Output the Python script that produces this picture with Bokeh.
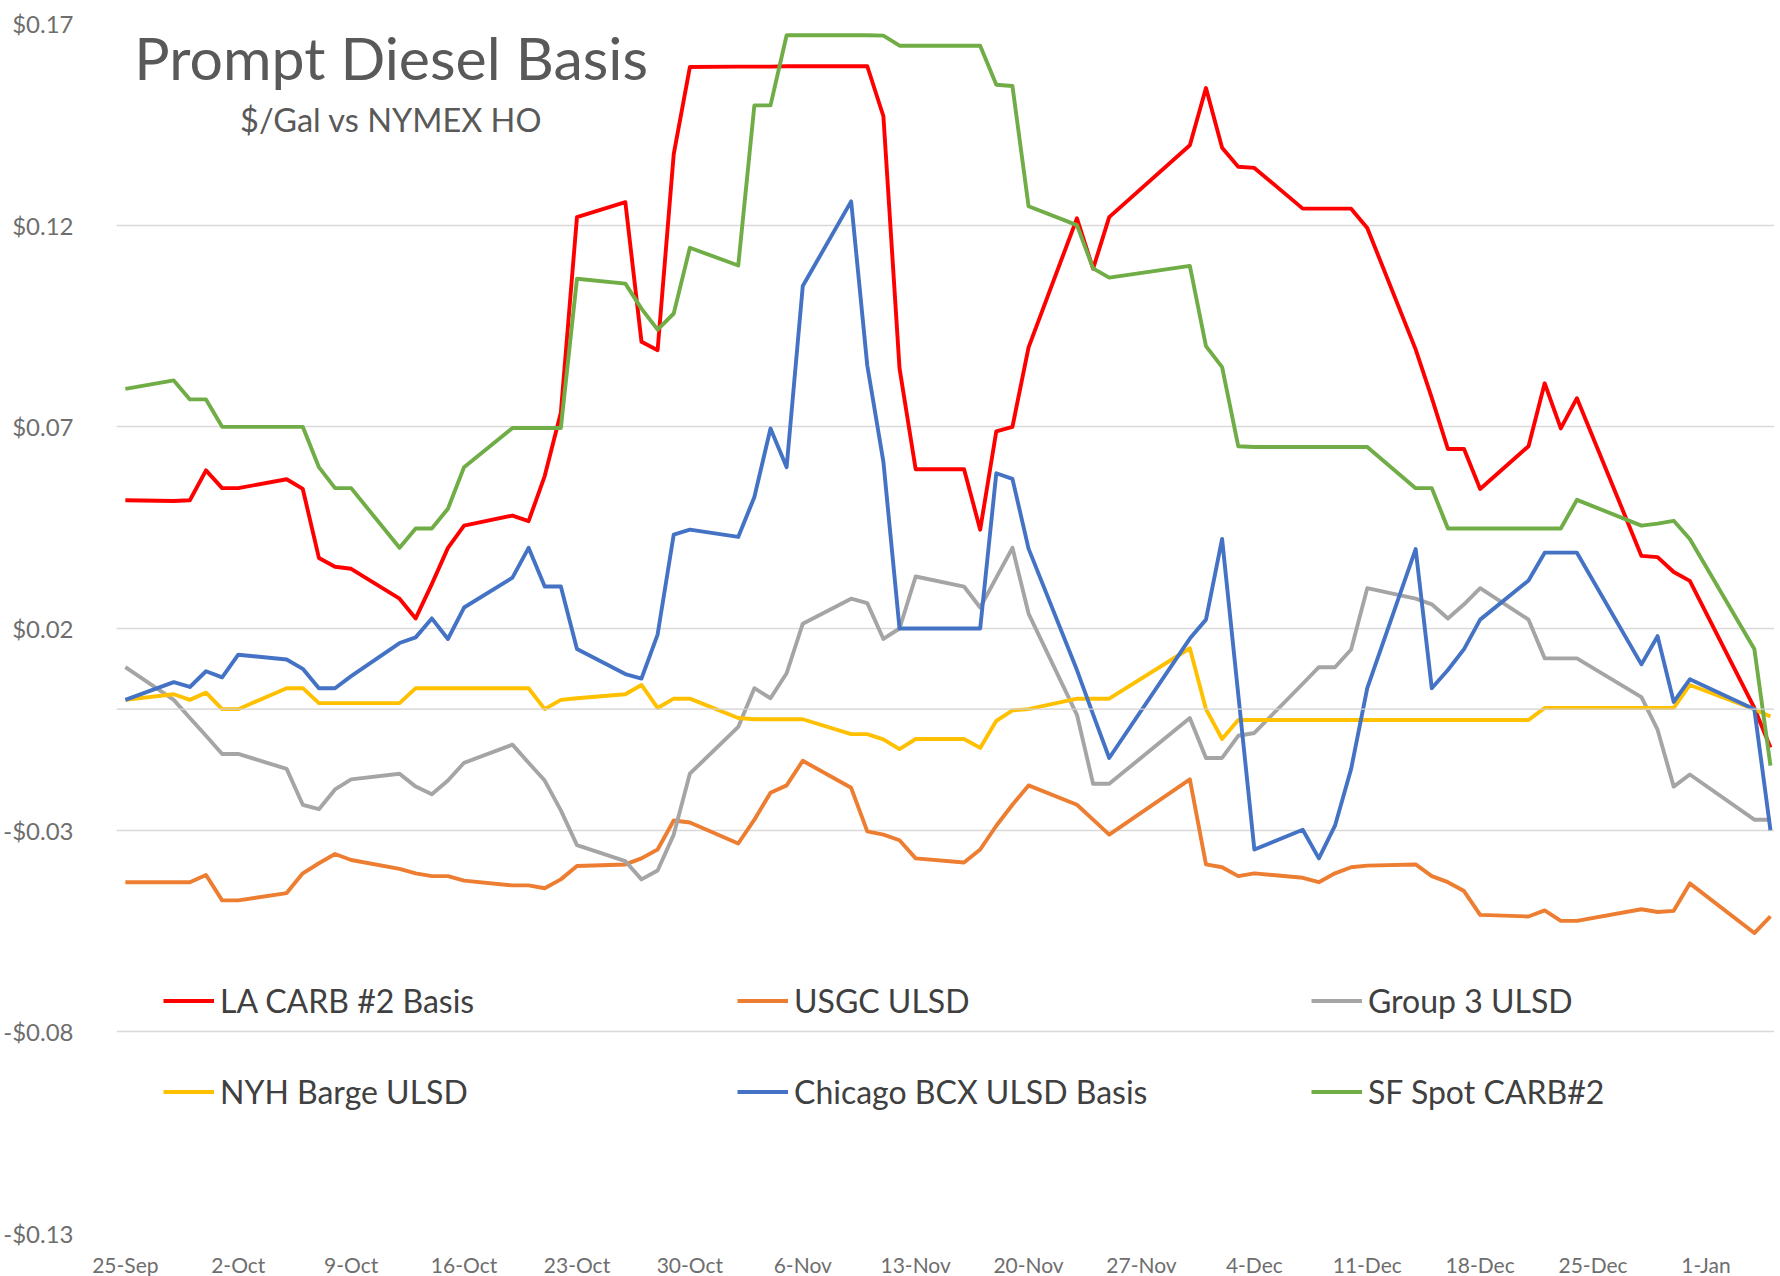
import pandas as pd
from bokeh.plotting import figure
from bokeh.models import (ColumnDataSource, FixedTicker, NumeralTickFormatter,
                          DatetimeTickFormatter, Legend, LegendItem, Label, Span, Range1d)
from bokeh.embed import file_html
from bokeh.resources import INLINE

dates = ["2020-09-25", "2020-09-28", "2020-09-29", "2020-09-30", "2020-10-01", "2020-10-02",
         "2020-10-05", "2020-10-06", "2020-10-07", "2020-10-08", "2020-10-09",
         "2020-10-12", "2020-10-13", "2020-10-14", "2020-10-15", "2020-10-16",
         "2020-10-19", "2020-10-20", "2020-10-21", "2020-10-22", "2020-10-23",
         "2020-10-26", "2020-10-27", "2020-10-28", "2020-10-29", "2020-10-30",
         "2020-11-02", "2020-11-03", "2020-11-04", "2020-11-05", "2020-11-06",
         "2020-11-09", "2020-11-10", "2020-11-11", "2020-11-12", "2020-11-13",
         "2020-11-16", "2020-11-17", "2020-11-18", "2020-11-19", "2020-11-20",
         "2020-11-23", "2020-11-24", "2020-11-25",
         "2020-11-30", "2020-12-01", "2020-12-02", "2020-12-03", "2020-12-04",
         "2020-12-07", "2020-12-08", "2020-12-09", "2020-12-10", "2020-12-11",
         "2020-12-14", "2020-12-15", "2020-12-16", "2020-12-17", "2020-12-18",
         "2020-12-21", "2020-12-22", "2020-12-23", "2020-12-24",
         "2020-12-28", "2020-12-29", "2020-12-30", "2020-12-31",
         "2021-01-04", "2021-01-05"]

la_carb = [0.0518, 0.0516, 0.0518, 0.0592, 0.0548, 0.0548,
           0.0570, 0.0546, 0.0375, 0.0353, 0.0348,
           0.0274, 0.0225, 0.0310, 0.0400, 0.0455,
           0.0480, 0.0466, 0.0578, 0.0735, 0.1220,
           0.1257, 0.0911, 0.0890, 0.1376, 0.1592,
           0.1593, 0.1593, 0.1593, 0.1594, 0.1594,
           0.1594, 0.1594, 0.1470, 0.0845, 0.0595,
           0.0595, 0.0445, 0.0689, 0.0700, 0.0897,
           0.1217, 0.1092, 0.1220,
           0.1398, 0.1540, 0.1392, 0.1345, 0.1342,
           0.1241, 0.1241, 0.1241, 0.1241, 0.1193,
           0.0892, 0.0772, 0.0645, 0.0645, 0.0546,
           0.0652, 0.0808, 0.0696, 0.0771,
           0.0380, 0.0377, 0.0340, 0.0318,
           0.0003, -0.0095]

usgc_ulsd = [-0.0429, -0.0429, -0.0429, -0.0411, -0.0474, -0.0474,
             -0.0456, -0.0407, -0.0382, -0.0359, -0.0374,
             -0.0396, -0.0407, -0.0414, -0.0414, -0.0425,
             -0.0437, -0.0437, -0.0444, -0.0422, -0.0389,
             -0.0385, -0.0370, -0.0348, -0.0276, -0.0281,
             -0.0333, -0.0274, -0.0207, -0.0189, -0.0128,
             -0.0195, -0.0303, -0.0311, -0.0325, -0.0370,
             -0.0380, -0.0348, -0.0289, -0.0237, -0.0189,
             -0.0237, -0.0274, -0.0311,
             -0.0174, -0.0385, -0.0392, -0.0414, -0.0407,
             -0.0418, -0.0429, -0.0407, -0.0392, -0.0388,
             -0.0385, -0.0414, -0.0429, -0.0451, -0.0510,
             -0.0514, -0.0499, -0.0525, -0.0525,
             -0.0496, -0.0503, -0.0500, -0.0432,
             -0.0555, -0.0514]

group3_ulsd = [0.0104, 0.0023, -0.0022, -0.0066, -0.0111, -0.0111,
               -0.0148, -0.0237, -0.0248, -0.0199, -0.0174,
               -0.0160, -0.0192, -0.0211, -0.0177, -0.0133,
               -0.0088, -0.0133, -0.0177, -0.0251, -0.0337,
               -0.0377, -0.0422, -0.0400, -0.0311, -0.0160,
               -0.0044, 0.0052, 0.0027, 0.0089, 0.0212,
               0.0274, 0.0263, 0.0174, 0.0200, 0.0329,
               0.0304, 0.0252, 0.0326, 0.0400, 0.0237,
               -0.0014, -0.0185, -0.0185,
               -0.0022, -0.0121, -0.0121, -0.0066, -0.0059,
               0.0063, 0.0104, 0.0104, 0.0148, 0.0300,
               0.0274, 0.0260, 0.0225, 0.0260, 0.0300,
               0.0222, 0.0126, 0.0126, 0.0126,
               0.0030, -0.0051, -0.0192, -0.0162,
               -0.0274, -0.0274]

nyh_barge = [0.0023, 0.0037, 0.0023, 0.0041, 0.0000, 0.0000,
             0.0052, 0.0052, 0.0015, 0.0015, 0.0015,
             0.0015, 0.0052, 0.0052, 0.0052, 0.0052,
             0.0052, 0.0052, 0.0000, 0.0023, 0.0027,
             0.0037, 0.0060, 0.0003, 0.0026, 0.0026,
             -0.0022, -0.0025, -0.0025, -0.0025, -0.0025,
             -0.0062, -0.0062, -0.0075, -0.0099, -0.0074,
             -0.0074, -0.0096, -0.0029, -0.0003, 0.0000,
             0.0026, 0.0026, 0.0026,
             0.0151, 0.0000, -0.0074, -0.0027, -0.0027,
             -0.0027, -0.0027, -0.0027, -0.0027, -0.0027,
             -0.0027, -0.0027, -0.0027, -0.0027, -0.0027,
             -0.0027, 0.0003, 0.0003, 0.0003,
             0.0003, 0.0003, 0.0003, 0.0060,
             0.0000, -0.0018]

chicago_bcx = [0.0023, 0.0067, 0.0055, 0.0094, 0.0079, 0.0135,
               0.0123, 0.0100, 0.0052, 0.0052, 0.0082,
               0.0164, 0.0178, 0.0225, 0.0174, 0.0252,
               0.0326, 0.0400, 0.0304, 0.0304, 0.0149,
               0.0087, 0.0076, 0.0185, 0.0433, 0.0445,
               0.0427, 0.0526, 0.0696, 0.0600, 0.1049,
               0.1259, 0.0852, 0.0613, 0.0200, 0.0200,
               0.0200, 0.0200, 0.0585, 0.0571, 0.0398,
               0.0097, -0.0013, -0.0121,
               0.0175, 0.0222, 0.0422, 0.0037, -0.0348,
               -0.0299, -0.0370, -0.0289, -0.0148, 0.0052,
               0.0397, 0.0052, 0.0097, 0.0149, 0.0222,
               0.0319, 0.0388, 0.0388, 0.0388,
               0.0111, 0.0181, 0.0018, 0.0074,
               0.0000, -0.0300]

sf_spot = [0.0794, 0.0815, 0.0768, 0.0768, 0.0700, 0.0700,
           0.0700, 0.0700, 0.0600, 0.0548, 0.0548,
           0.0400, 0.0448, 0.0448, 0.0497, 0.0600,
           0.0697, 0.0697, 0.0697, 0.0697, 0.1067,
           0.1055, 0.0993, 0.0941, 0.0981, 0.1144,
           0.1100, 0.1497, 0.1497, 0.1671, 0.1671,
           0.1671, 0.1671, 0.1670, 0.1645, 0.1645,
           0.1645, 0.1645, 0.1548, 0.1545, 0.1247,
           0.1200, 0.1093, 0.1070,
           0.1099, 0.0900, 0.0848, 0.0652, 0.0650,
           0.0650, 0.0650, 0.0650, 0.0650, 0.0650,
           0.0548, 0.0548, 0.0448, 0.0448, 0.0448,
           0.0448, 0.0448, 0.0448, 0.0519,
           0.0455, 0.0460, 0.0467, 0.0422,
           0.0149, -0.0140]

series_names = ["LA CARB #2 Basis", "USGC ULSD", "Group 3 ULSD",
                "NYH Barge ULSD", "Chicago BCX ULSD Basis", "SF Spot CARB#2"]
series_values = [la_carb, usgc_ulsd, group3_ulsd, nyh_barge, chicago_bcx, sf_spot]
series_colors = ["#FF0000", "#ED7D31", "#A5A5A5", "#FFC000", "#4472C4", "#70AD47"]

x_tick_dates = ["2020-09-25", "2020-10-02", "2020-10-09", "2020-10-16", "2020-10-23",
                "2020-10-30", "2020-11-06", "2020-11-13", "2020-11-20", "2020-11-27",
                "2020-12-04", "2020-12-11", "2020-12-18", "2020-12-25", "2021-01-01"]
y_ticks = [-0.13, -0.08, -0.03, 0.02, 0.07, 0.12, 0.17]

title_text = "Prompt Diesel Basis"
subtitle_text = "$/Gal vs NYMEX HO"

FONT = "Lato"


def ms(s):
    return pd.Timestamp(s).value / 1e6


x_dt = pd.to_datetime(dates)
src = ColumnDataSource(dict(x=x_dt, **{f"s{i}": v for i, v in enumerate(series_values)}))

x_start = pd.Timestamp("2020-09-24 10:48")
x_end = pd.Timestamp("2021-01-05 06:00")

p = figure(output_backend="svg", toolbar_location=None,
           x_axis_type="datetime",
           frame_width=1658, frame_height=1210,
           min_border_left=115, min_border_right=0, min_border_top=23, min_border_bottom=40,
           x_range=Range1d(x_start, x_end), y_range=Range1d(-0.13, 0.17))

p.outline_line_color = None
p.background_fill_color = "white"
p.border_fill_color = "white"

# grid
p.xgrid.visible = False
p.ygrid.ticker = FixedTicker(ticks=y_ticks)
p.ygrid.grid_line_color = "#D9D9D9"
p.ygrid.grid_line_width = 1.4
p.add_layout(Span(location=0, dimension="width", line_color="#D0D0D0", line_width=1.4))

# y axis
p.yaxis.ticker = FixedTicker(ticks=y_ticks)
p.yaxis.formatter = NumeralTickFormatter(format="$0.00")
p.yaxis.axis_line_color = None
p.yaxis.major_tick_line_color = None
p.yaxis.minor_tick_line_color = None
p.yaxis.major_label_standoff = 37
p.yaxis.major_label_text_font = FONT
p.yaxis.major_label_text_font_size = "24px"
p.yaxis.major_label_text_color = "#6E6E6E"

# x axis
p.xaxis.ticker = FixedTicker(ticks=[ms(d) for d in x_tick_dates])
fmt = "%-d-%b"
p.xaxis.formatter = DatetimeTickFormatter(days=fmt, months=fmt, years=fmt, hours=fmt,
                                          hourmin=fmt, minutes=fmt)
p.xaxis.axis_line_color = None
p.xaxis.major_tick_line_color = None
p.xaxis.minor_tick_line_color = None
p.xaxis.major_label_standoff = 12
p.xaxis.major_label_text_font = FONT
p.xaxis.major_label_text_font_size = "21px"
p.xaxis.major_label_text_color = "#6E6E6E"

items = []
for i, (name, col) in enumerate(zip(series_names, series_colors)):
    r = p.line("x", f"s{i}", source=src, line_color=col, line_width=3.9,
               line_join="round")
    items.append(LegendItem(label=name, renderers=[r]))

legend = Legend(items=items, orientation="horizontal", ncols=3,
                location=(47, 96),
                glyph_width=51, glyph_height=91, label_width=517, label_height=91,
                label_standoff=6, spacing=0, padding=0, margin=0,
                background_fill_alpha=0, border_line_alpha=0,
                label_text_font=FONT, label_text_font_size="32px",
                label_text_color="#404040")
p.add_layout(legend)

title_x = ms("2020-10-11 11:30")
p.add_layout(Label(x=title_x, y=0.1616, text=title_text, text_align="center",
                   text_baseline="alphabetic", text_font=FONT, text_font_size="59px",
                   text_color="#595959"))
p.add_layout(Label(x=title_x, y=0.1462, text=subtitle_text, text_align="center",
                   text_baseline="alphabetic", text_font=FONT, text_font_size="32.5px",
                   text_color="#595959"))

open("out.html", "w").write(file_html(p, INLINE))
